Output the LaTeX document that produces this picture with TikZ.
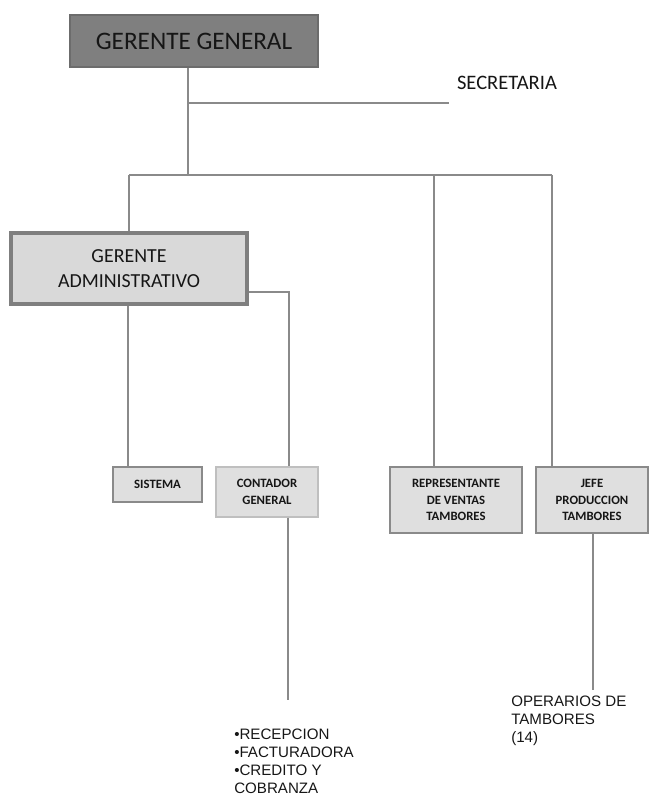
\documentclass[tikz,border=0pt]{standalone}
\usepackage{fontspec}
\setmainfont{Carlito}
\newfontfamily\arialfont{Liberation Sans}
\usepackage{tikz}
\definecolor{dark}{HTML}{7F7F7F}
\definecolor{pale}{HTML}{D9D9D9}
\definecolor{soft}{HTML}{DFDFDF}
\definecolor{wire}{HTML}{8A8A8A}
\definecolor{ink}{HTML}{161616}

\begin{document}
\begin{tikzpicture}[x=0.0265cm, y=-0.0265cm, every node/.style={text=ink, inner sep=0pt, align=center}, topbox/.style={draw=dark!85!black, fill=dark, line width=0.8pt, minimum width=6.572cm, minimum height=1.378cm, font=\fontsize{19}{22}\selectfont}, midbox/.style={draw=dark, fill=pale, line width=3pt, minimum width=6.254cm, minimum height=1.882cm, font=\fontsize{15}{18.8}\selectfont}, unitbox/.style={draw=wire, fill=soft, line width=0.8pt, font=\bfseries\fontsize{9.6}{12.5}\selectfont}, note/.style={align=left, font=\arialfont\fontsize{11.4}{13.4}\selectfont}, wire/.style={draw=wire, line width=1.1pt}]
\useasboundingbox (0,0) rectangle (650,799);
\node[topbox] (gerente) at (194,41) {GERENTE GENERAL};
\node[font=\fontsize{15.5}{18}\selectfont] (secretaria) at (507,83) {SECRETARIA};
\node[midbox] (admin) at (129,268.5) {GERENTE\\ADMINISTRATIVO};
\node[unitbox, minimum width=2.359cm, minimum height=0.928cm] (sistema) at (157.5,484.5) {SISTEMA};
\node[unitbox, draw=wire!55, minimum width=2.703cm, minimum height=1.325cm] (contador) at (267,492) {CONTADOR\\GENERAL};
\node[unitbox, minimum width=3.498cm, minimum height=1.749cm] (ventas) at (456,500) {REPRESENTANTE\\DE VENTAS\\TAMBORES};
\node[unitbox, minimum width=2.968cm, minimum height=1.749cm] (jefe) at (592,500) {JEFE\\PRODUCCION\\TAMBORES};
\node[note, anchor=north west] (areas) at (234,729) {•RECEPCION\\•FACTURADORA\\•CREDITO Y\\COBRANZA};
\node[note, anchor=north west] (operarios) at (511,696) {OPERARIOS DE\\TAMBORES\\(14)};
\coordinate (bus) at (188,175);
\coordinate (secjoin) at (188,103);
\coordinate (secend) at (449,103);
\coordinate (busleft) at (129,175);
\coordinate (busright) at (552,175);
\coordinate (adminturn) at (289,292);
\coordinate (contend) at (288,700);
\coordinate (jefeend) at (593,690);
\draw[wire] (gerente.south -| bus)--(bus);
\draw[wire] (secjoin)--(secend);
\draw[wire] (busleft)--(busright);
\draw[wire] (busleft)--(admin.north);
\draw[wire] (ventas.north -| 434,0)--(434,175);
\draw[wire] (jefe.north -| busright)--(busright);
\draw[wire] (admin.south -| 128,0)--(sistema.north -| 128,0);
\draw[wire] (admin.east |- adminturn)--(adminturn)--(contador.north -| adminturn);
\draw[wire] (contador.south -| contend)--(contend);
\draw[wire] (jefe.south -| jefeend)--(jefeend);
\end{tikzpicture}
\end{document}
